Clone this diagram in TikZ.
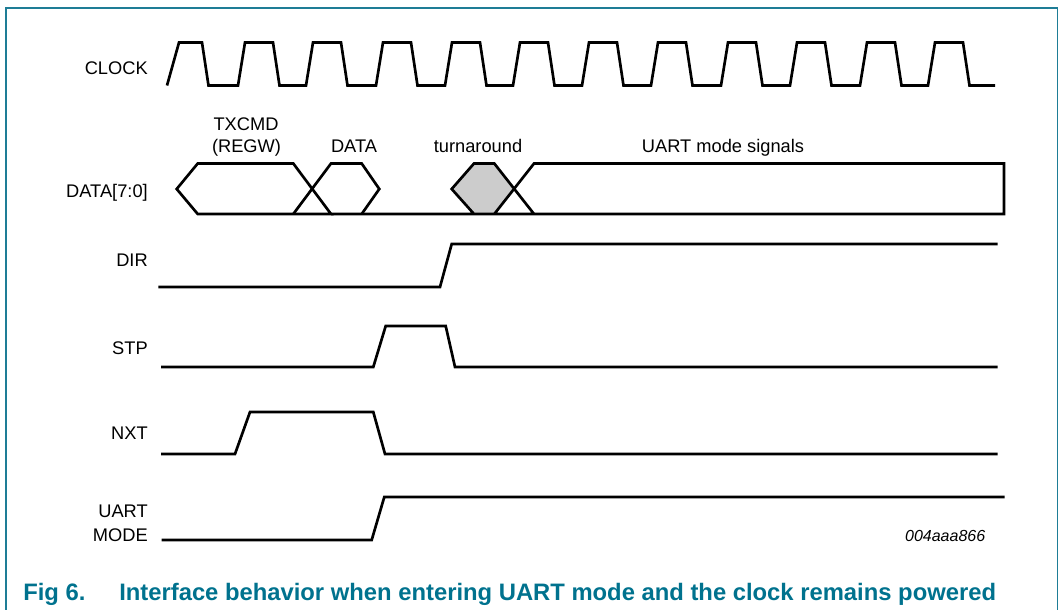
\documentclass[tikz,border=0pt]{standalone}
\usepackage{fontspec}
\setmainfont{Liberation Sans}
\definecolor{nxpteal}{RGB}{0,114,142}
\definecolor{framecol}{RGB}{30,125,150}
\definecolor{tagrey}{RGB}{204,204,204}
\begin{document}
\begin{tikzpicture}[x=0.75pt,y=-0.75pt,
  sig/.style={line width=2pt, line join=miter},
  lbl/.style={font=\fontsize{13.7}{16}\selectfont, inner sep=0pt},
  captext/.style={font=\bfseries\fontsize{17.85}{20}\selectfont, text=nxpteal, inner sep=0pt, anchor=base west}]
\useasboundingbox (0,0) rectangle (1061,610);
% frame
\draw[framecol, line width=1.2pt] (6,610) -- (6,8) -- (1057.5,8) -- (1057.5,610);

% signal names
\node[lbl, anchor=base east] (nclk) at (148,75) {CLOCK};
\node[lbl, anchor=base east] (ndata) at (148,197) {DATA[7:0]};
\node[lbl, anchor=base east] (ndir) at (148,266) {DIR};
\node[lbl, anchor=base east] (nstp) at (148,354) {STP};
\node[lbl, anchor=base east] (nnxt) at (148,439) {NXT};
\node[lbl, anchor=base east] (nuart) at (148,517) {UART};
\node[lbl, anchor=base east] (nmode) at (148,541) {MODE};

% bus labels
\node[lbl, anchor=base] (ltx) at (246,131) {TXCMD};
\node[lbl, anchor=base] (lregw) at (246.5,152) {(REGW)};
\node[lbl, anchor=base] (ldata) at (354,152) {DATA};
\node[lbl, anchor=base] (lturn) at (478,152) {turnaround};
\node[lbl, anchor=base] (luart) at (723,152) {UART mode signals};

% CLOCK
\draw[sig] (167,85.5) -- (179,42.5) -- (202,42.5) -- (208.5,85.5)
  \foreach \t in {245,313,383,452,520,589,658,728,797,867,935} {
    -- (\t-7,85.5) -- (\t,42.5) -- (\t+28,42.5) -- (\t+34.5,85.5) }
  -- (995,85.5);

% DATA[7:0]
\fill[tagrey] (451.7,189) -- (474,163.5) -- (494.3,163.5) -- (515,189) -- (494.3,214) -- (474,214) -- cycle;
\draw[sig] (176.7,189) -- (197.7,163.5) -- (293.3,163.5) -- (331,214) -- (197.7,214) -- cycle;
\draw[sig] (293.3,214) -- (331,163.5) -- (361.7,163.5) -- (379.3,189) -- (361.7,214);
\draw[sig] (331,214) -- (1004,214) -- (1004,163.5) -- (534,163.5) -- (494.3,214) -- (474,214) -- (451.7,189) -- (474,163.5) -- (494.3,163.5) -- (534,214);

% DIR
\draw[sig] (158.3,287) -- (440,287) -- (451.7,244) -- (997.6,244);
% STP
\draw[sig] (161,367) -- (373.3,367) -- (385.7,326) -- (445.7,326) -- (455,367) -- (997.6,367);
% NXT
\draw[sig] (161,454) -- (235,454) -- (250,412) -- (373.3,412) -- (385,454) -- (997.6,454);
% UART MODE
\draw[sig] (161.7,540) -- (371.7,540) -- (384.3,497) -- (1004.5,497);

% tag
\node[lbl, font=\itshape\fontsize{12}{14}\selectfont, anchor=base east] (tag) at (985.5,541) {004aaa866};

% caption
\node[captext] (fignum) at (23,600) {Fig 6.};
\node[captext] (figtxt) at (119,600) {Interface behavior when entering UART mode and the clock remains powered};
\end{tikzpicture}
\end{document}
